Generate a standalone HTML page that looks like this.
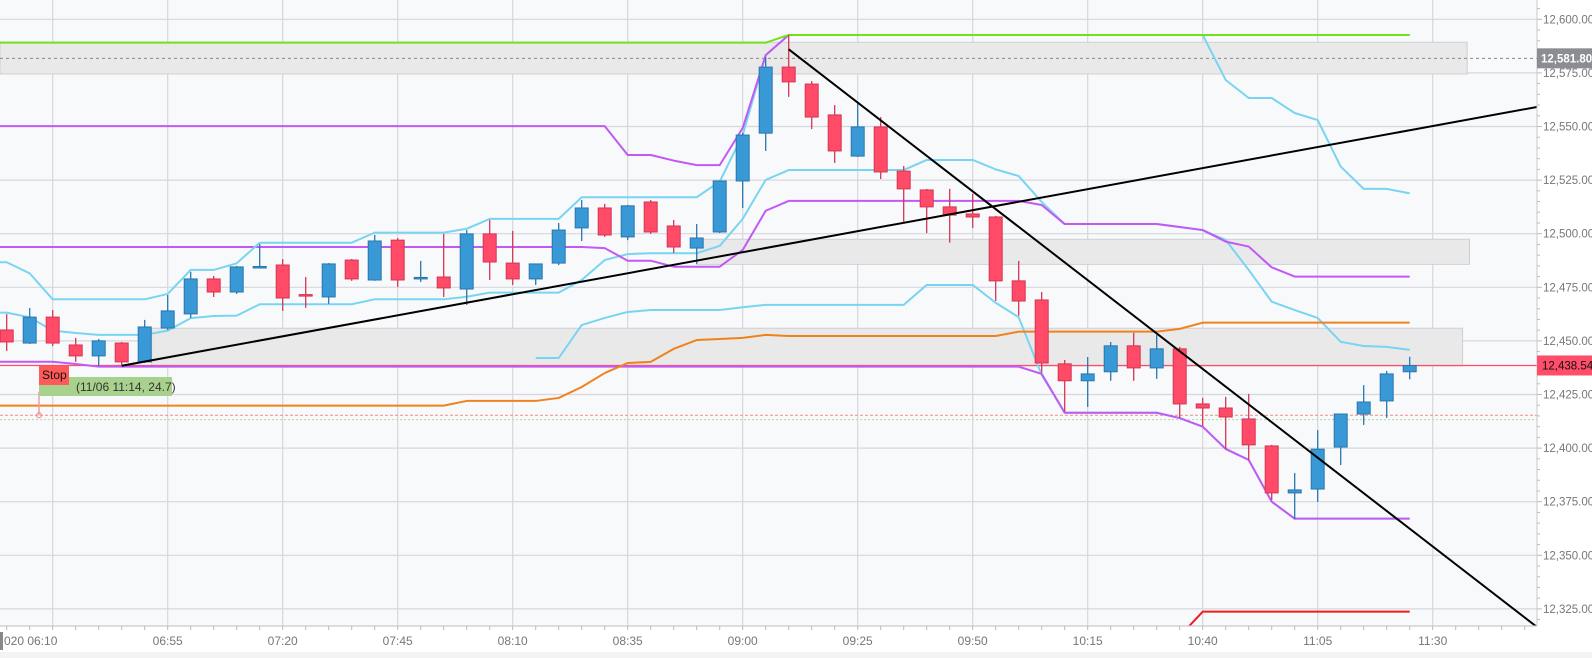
<!DOCTYPE html>
<html><head><meta charset="utf-8"><style>
html,body{margin:0;padding:0;background:#fff;}
svg{display:block;font-family:"Liberation Sans",sans-serif;}
</style></head><body>
<svg id="chart" width="1592" height="658" viewBox="0 0 1592 658" xmlns="http://www.w3.org/2000/svg">
<defs><clipPath id="plotclip"><rect x="0" y="0" width="1537" height="626"/></clipPath></defs>
<rect x="0" y="0" width="1592" height="658" fill="#ffffff"/>
<rect x="0" y="0" width="1537" height="626" fill="#f8f9fb"/>
<rect x="0" y="652" width="1592" height="6" fill="#f3f3f4"/>
<g id="grid"></g>
<g id="bands" clip-path="url(#plotclip)"></g>
<g id="lines" clip-path="url(#plotclip)"></g>
<g id="candles" clip-path="url(#plotclip)"></g>
<g id="overlay" clip-path="url(#plotclip)"></g>
<g id="axes"></g>
</svg>
<script>
const opens  = [12455.1,12449.0,12461.1,12448.1,12443.0,12449.0,12440.2,12456.0,12462.6,12478.9,12472.8,12484.3,12485.4,12471.6,12470.5,12487.7,12478.4,12497.0,12479.1,12479.8,12474.2,12499.9,12486.3,12478.9,12486.3,12502.7,12512.0,12498.5,12514.8,12503.6,12493.3,12500.8,12524.6,12546.9,12577.7,12569.8,12555.4,12536.2,12549.8,12529.2,12520.4,12512.5,12509.2,12507.8,12478.0,12469.1,12439.3,12431.4,12435.6,12447.7,12437.4,12446.3,12420.6,12418.7,12413.6,12401.0,12379.1,12380.9,12400.5,12415.9,12422.0,12435.6];
const closes = [12449.5,12461.1,12449.0,12443.0,12450.0,12440.2,12456.5,12464.0,12478.9,12472.8,12484.5,12484.7,12470.0,12471.2,12485.9,12478.9,12496.6,12478.4,12479.6,12474.7,12499.9,12486.8,12478.9,12485.9,12501.7,12512.0,12499.4,12513.0,12500.8,12493.8,12498.0,12524.6,12546.0,12577.7,12570.8,12554.4,12538.6,12549.8,12528.8,12520.9,12512.5,12508.7,12507.8,12478.0,12468.6,12439.7,12431.4,12434.6,12447.7,12437.4,12446.3,12420.6,12418.7,12414.5,12401.5,12379.1,12380.5,12399.5,12415.9,12421.5,12434.6,12438.5];
const highs  = [12462.5,12465.3,12464.4,12451.4,12450.9,12449.5,12459.8,12471.4,12482.2,12480.3,12485.0,12495.2,12488.2,12479.8,12486.3,12488.2,12499.4,12498.0,12487.3,12499.9,12501.7,12506.4,12501.3,12485.9,12505.0,12515.7,12513.9,12513.4,12515.7,12506.4,12504.5,12524.6,12547.0,12582.4,12592.7,12571.2,12560.0,12560.9,12554.4,12531.6,12520.9,12520.9,12518.6,12508.3,12487.3,12472.8,12441.1,12442.5,12449.5,12453.8,12452.8,12447.2,12423.4,12423.9,12425.3,12401.5,12388.4,12408.4,12415.9,12429.4,12436.0,12442.6];
const lows   = [12445.3,12448.6,12447.6,12440.2,12438.3,12438.8,12439.7,12455.1,12460.7,12470.5,12471.9,12484.0,12464.0,12465.4,12467.3,12478.0,12478.0,12475.2,12477.5,12470.5,12466.8,12478.4,12476.1,12476.1,12485.4,12496.6,12498.5,12497.0,12499.9,12491.0,12485.9,12500.3,12512.0,12538.6,12563.8,12548.8,12533.0,12535.8,12525.5,12505.5,12500.3,12495.8,12502.7,12468.6,12461.7,12435.1,12416.9,12419.2,12431.4,12431.4,12432.3,12414.1,12410.3,12399.5,12394.4,12375.8,12366.9,12374.9,12392.1,12410.8,12414.1,12432.1];

const greenLine = [12589.1,12589.1,12589.1,12589.1,12589.1,12589.1,12589.1,12589.1,12589.1,12589.1,12589.1,12589.1,12589.1,12589.1,12589.1,12589.1,12589.1,12589.1,12589.1,12589.1,12589.1,12589.1,12589.1,12589.1,12589.1,12589.1,12589.1,12589.1,12589.1,12589.1,12589.1,12589.1,12589.1,12589.1,12592.7,12592.7,12592.7,12592.7,12592.7,12592.7,12592.7,12592.7,12592.7,12592.7,12592.7,12592.7,12592.7,12592.7,12592.7,12592.7,12592.7,12592.7,12592.7,12592.7,12592.7,12592.7,12592.7,12592.7,12592.7,12592.7,12592.7,12592.7];
const purpleUpper = [12550.2,12550.2,12550.2,12550.2,12550.2,12550.2,12550.2,12550.2,12550.2,12550.2,12550.2,12550.2,12550.2,12550.2,12550.2,12550.2,12550.2,12550.2,12550.2,12550.2,12550.2,12550.2,12550.2,12550.2,12550.2,12550.2,12550.2,12536.7,12536.7,12534.1,12532.0,12532.0,12549.3,12583.3,12592.7,12592.7,12592.7,12592.7,12592.7,12592.7,12592.7,12592.7,12592.7,12592.7,12592.7,12592.7,12592.7,12592.7,12592.7,12592.7,12592.7,12592.7,12592.7,12592.7,12592.7,12592.7,12592.7,12592.7,12592.7,12592.7,12592.7,12592.7];
const purpleMid = [12493.8,12493.8,12493.8,12493.8,12493.8,12493.8,12493.8,12493.8,12493.8,12493.8,12493.8,12493.8,12493.8,12493.8,12493.8,12493.8,12493.8,12493.8,12493.8,12493.8,12493.8,12493.8,12493.8,12493.8,12493.8,12493.8,12493.3,12487.4,12487.4,12484.6,12484.6,12484.6,12492.4,12510.7,12515.3,12515.3,12515.3,12515.3,12515.3,12515.3,12515.3,12515.3,12515.3,12515.3,12515.3,12513.4,12504.5,12504.5,12504.5,12504.5,12504.5,12503.1,12501.7,12496.3,12494.0,12484.3,12480.0,12480.0,12480.0,12480.0,12480.0,12480.0];
const purpleLower = [12440.3,12440.3,12440.3,12439.2,12438.0,12438.0,12438.0,12438.0,12438.0,12438.0,12438.0,12438.0,12438.0,12438.0,12438.0,12438.0,12438.0,12438.0,12438.0,12438.0,12438.0,12438.0,12438.0,12438.0,12438.0,12438.0,12438.0,12438.0,12438.0,12438.0,12438.0,12438.0,12438.0,12438.0,12438.0,12438.0,12438.0,12438.0,12438.0,12438.0,12438.0,12438.0,12438.0,12438.0,12438.0,12434.6,12416.5,12416.5,12416.5,12416.5,12416.5,12414.0,12410.0,12399.6,12394.5,12375.0,12367.1,12367.1,12367.1,12367.1,12367.1,12367.1];
const cyanUpper = [12486.7,12481.5,12469.4,12469.4,12469.4,12469.4,12469.4,12471.9,12483.1,12483.1,12486.2,12495.8,12495.8,12495.8,12495.8,12495.8,12500.5,12500.5,12500.5,12500.5,12502.3,12506.9,12506.9,12506.9,12506.9,12517.0,12517.0,12517.0,12517.0,12517.0,12517.0,12524.3,12546.0,12583.3,12592.7,12592.7,12592.7,12592.7,12592.7,12592.7,12592.7,12592.7,12592.7,12592.7,12592.7,12592.7,12592.7,12592.7,12592.7,12592.7,12592.7,12592.7,12592.7,12571.7,12563.3,12563.3,12556.3,12553.0,12531.3,12520.9,12520.9,12518.8];
const cyanMid = [12463.2,12461.0,12454.8,12453.7,12452.8,12452.8,12452.8,12454.8,12460.6,12461.6,12461.8,12467.1,12467.1,12467.1,12467.1,12467.1,12469.4,12469.4,12469.4,12469.4,12470.6,12472.5,12472.5,12472.5,12472.5,12478.4,12487.7,12490.5,12490.9,12490.9,12490.9,12494.3,12506.9,12525.1,12529.7,12529.7,12529.7,12529.7,12529.7,12529.7,12534.4,12534.4,12534.4,12530.0,12526.9,12514.8,12504.5,12504.5,12504.5,12504.5,12504.5,12503.1,12501.7,12497.1,12483.1,12468.3,12464.4,12460.7,12449.6,12447.6,12447.2,12445.8];
const cyanLower = [null,null,null,null,null,null,null,null,null,null,null,null,null,null,null,null,null,null,null,null,null,null,null,12442.0,12442.0,12457.4,12460.7,12463.5,12464.4,12464.4,12464.4,12464.4,12465.7,12466.8,12466.8,12466.8,12466.8,12466.8,12466.8,12466.8,12476.1,12476.1,12476.1,12467.8,12461.0,12434.1,12416.5,12416.5,12416.5,12416.5,12416.5,12414.0,12410.0,12399.6,12394.5,12375.0,12367.1,12367.1,12367.1,12367.1,12367.1,12367.1];
const orangeLine = [12419.8,12419.8,12419.8,12419.8,12419.8,12419.8,12419.8,12419.8,12419.8,12419.8,12419.8,12419.8,12419.8,12419.8,12419.8,12419.8,12419.8,12419.8,12419.8,12419.8,12422.0,12422.0,12422.0,12422.0,12423.4,12428.5,12435.0,12439.7,12440.2,12446.3,12450.4,12450.9,12451.4,12452.8,12452.3,12452.3,12452.3,12452.3,12452.3,12452.3,12452.3,12452.3,12452.3,12452.3,12454.3,12454.3,12454.3,12454.3,12454.3,12454.3,12454.3,12455.6,12458.5,12458.5,12458.5,12458.5,12458.5,12458.5,12458.5,12458.5,12458.5,12458.5];
const redLine = [null,null,null,null,null,null,null,null,null,null,null,null,null,null,null,null,null,null,null,null,null,null,null,null,null,null,null,null,null,null,null,null,null,null,null,null,null,null,null,null,null,null,null,null,null,null,null,null,null,null,null,12312.3,12323.7,12323.7,12323.7,12323.7,12323.7,12323.7,12323.7,12323.7,12323.7,12323.7];

const yTicks = [12600,12575,12550,12525,12500,12475,12450,12425,12400,12375,12350,12325];
const xTickLabels = ["020 06:10","06:55","07:20","07:45","08:10","08:35","09:00","09:25","09:50","10:15","10:40","11:05","11:30"];
const zoneTops = [12589.3,12497.4,12455.9];
const zoneBottoms = [12574.5,12485.7,12438.3];
const zoneStarts = [-0.3,30,6.3];
const zoneEnds = [63.5,63.6,63.3];
const trendStarts = [[5,12438.4],[34,12586.0]];
const trendEnds = [[66.53,12559.1],[66.53,12316.6]];
const lastPrice = 12438.54;
const markPrice = 12581.80;
const stopPrice = 12415.3;
const targetPrice = 12413.3;

const NS="http://www.w3.org/2000/svg";
function xOf(i){return 6.7+23*i;}
function yOf(v){return 19.3+(12600-v)*2.144;}
function mk(tag,attrs,parent){const e=document.createElementNS(NS,tag);for(const k in attrs)e.setAttribute(k,attrs[k]);parent.appendChild(e);return e;}
function fmt(v){return v.toFixed(2).replace(/\B(?=(\d{3})+(?!\d))/g,",");}

const grid=document.getElementById('grid');
yTicks.forEach(function(v){
  const l=mk('line',{x1:0,x2:1537,y1:yOf(v),y2:yOf(v),stroke:'#d5d7dd','stroke-width':1.2},grid);
  
  
});
xTickLabels.forEach(function(t,k){
  const x=52.7+115*k;
  const l=mk('line',{x1:x,x2:x,y1:0,y2:626,stroke:'#d5d7dd','stroke-width':1.2},grid);
  
  
});

const bands=document.getElementById('bands');
zoneTops.forEach(function(t,k){
  const x1=Math.max(0,xOf(zoneStarts[k])),x2=xOf(zoneEnds[k]);
  const r=mk('rect',{x:x1,y:yOf(t),width:x2-x1,height:yOf(zoneBottoms[k])-yOf(t),fill:'#e9e9ea',stroke:'#cfcfd1','stroke-width':1},bands);
  
  
});

const lines=document.getElementById('lines');
function drawSeries(arr,color,name){
  let d='';let started=false;
  arr.forEach(function(v,i){
    if(v===null){started=false;return;}
    if(!started){ d+=(i===0?'M0,'+yOf(v)+' L':'M')+xOf(i)+','+yOf(v); started=true;}
    else d+=' L'+xOf(i)+','+yOf(v);
  });
  const p=mk('path',{d:d,fill:'none',stroke:color,'stroke-width':2,'stroke-linejoin':'round'},lines);
  
  
}
const hl=mk('line',{x1:0,x2:1537,y1:yOf(lastPrice),y2:yOf(lastPrice),stroke:'#ff4d6a','stroke-width':1.3},lines);


const ml=mk('line',{x1:0,x2:1537,y1:yOf(markPrice),y2:yOf(markPrice),stroke:'#888','stroke-width':1,'stroke-dasharray':'3,3'},lines);


const sl=mk('line',{x1:0,x2:1537,y1:yOf(stopPrice),y2:yOf(stopPrice),stroke:'#f08a8a','stroke-width':1,'stroke-dasharray':'3,2'},lines);


const tl=mk('line',{x1:0,x2:1537,y1:yOf(targetPrice),y2:yOf(targetPrice),stroke:'#b8d8a0','stroke-width':1,'stroke-dasharray':'2,2'},lines);



drawSeries(cyanLower,'#78d5f2','cyan-lower-line');
drawSeries(cyanMid,'#78d5f2','cyan-mid-line');
drawSeries(purpleLower,'#c259f5','purple-lower-line');
drawSeries(purpleMid,'#c259f5','purple-mid-line');
drawSeries(cyanUpper,'#78d5f2','cyan-upper-line');
drawSeries(purpleUpper,'#c259f5','purple-upper-line');
drawSeries(orangeLine,'#f0821e','orange-line');
drawSeries(redLine,'#ee1c1c','red-line');
drawSeries(greenLine,'#74e01a','green-line');

const candles=document.getElementById('candles');
opens.forEach(function(o,i){
  const c=closes[i],up=c>=o;
  const fill=up?'#3899d6':'#ff4a68',stroke=up?'#2a76ad':'#d43653';
  const x=xOf(i);
  const g=mk('g',{},candles);
  
  
  mk('line',{x1:x,x2:x,y1:yOf(highs[i]),y2:yOf(lows[i]),stroke:stroke,'stroke-width':1.3},g);
  const top=yOf(Math.max(o,c)),bot=yOf(Math.min(o,c));
  mk('rect',{x:x-6.5,y:top,width:13,height:Math.max(1.5,bot-top),fill:fill,stroke:stroke,'stroke-width':1},g);
});

const overlay=document.getElementById('overlay');
trendStarts.forEach(function(s,k){
  const e=trendEnds[k];
  const l=mk('line',{x1:xOf(s[0]),y1:yOf(s[1]),x2:xOf(e[0]),y2:yOf(e[1]),stroke:'#000','stroke-width':2},overlay);
  
  
});
const sm=mk('line',{x1:39,x2:39,y1:392,y2:yOf(stopPrice),stroke:'#f0a0a0','stroke-width':1.5},overlay);


const sc=mk('circle',{cx:39,cy:yOf(stopPrice),r:2.5,fill:'none',stroke:'#f08a8a','stroke-width':1},overlay);


const gb=mk('rect',{x:39,y:377,width:133,height:19,fill:'#a9d18e'},overlay);


const gt=mk('text',{x:76,y:391,'font-size':12,fill:'#333'},overlay);
gt.textContent='(11/06 11:14, 24.7)';


const rb=mk('rect',{x:39,y:366,width:30,height:19,fill:'#ff5a5a'},overlay);


const rt=mk('text',{x:42,y:379,'font-size':12,fill:'#111'},overlay);
rt.textContent='Stop';



const axes=document.getElementById('axes');
mk('line',{x1:1537,x2:1537,y1:0,y2:626,stroke:'#c8cad0','stroke-width':1},axes);
mk('line',{x1:0,x2:1537,y1:626,y2:626,stroke:'#c8cad0','stroke-width':1.2},axes);
for(let v=12605;v>=12315;v-=5){
  const y=yOf(v); if(y<0||y>626)continue;
  mk('line',{x1:1537,x2:(v%25===0?1542:1540),y1:y,y2:y,stroke:'#bbb','stroke-width':1},axes);
}
yTicks.forEach(function(v){
  const t=mk('text',{x:1543,y:yOf(v)+4,'font-size':11.5,fill:'#777'},axes);
  t.textContent=fmt(v);
  
  
});
for(let i=-1;i<67;i++){const x=xOf(i)+23; if(x>0&&x<1537) mk('line',{x1:x,x2:x,y1:626,y2:630,stroke:'#bbb','stroke-width':1},axes);}
xTickLabels.forEach(function(s,k){
  const x=52.7+115*k;
  const t=mk('text',{x:(k===0?4:x),y:645,'font-size':12,fill:'#777','text-anchor':(k===0?'start':'middle')},axes);
  t.textContent=s;
  
  
});
mk('rect',{x:0,y:632,width:3,height:18,fill:'#888'},axes);
const mb=mk('rect',{x:1537,y:yOf(markPrice)-10,width:55,height:20,fill:'#8b8d93'},axes);


const mtx=mk('text',{x:1541,y:yOf(markPrice)+4,'font-size':11.5,fill:'#fff','font-weight':'bold'},axes);
mtx.textContent=fmt(markPrice);


const lb=mk('rect',{x:1537,y:yOf(lastPrice)-10,width:55,height:20,fill:'#ff4d6a'},axes);


const ltx=mk('text',{x:1542,y:yOf(lastPrice)+4,'font-size':11.5,fill:'#111'},axes);
ltx.textContent=fmt(lastPrice);


</script>
</body></html>
